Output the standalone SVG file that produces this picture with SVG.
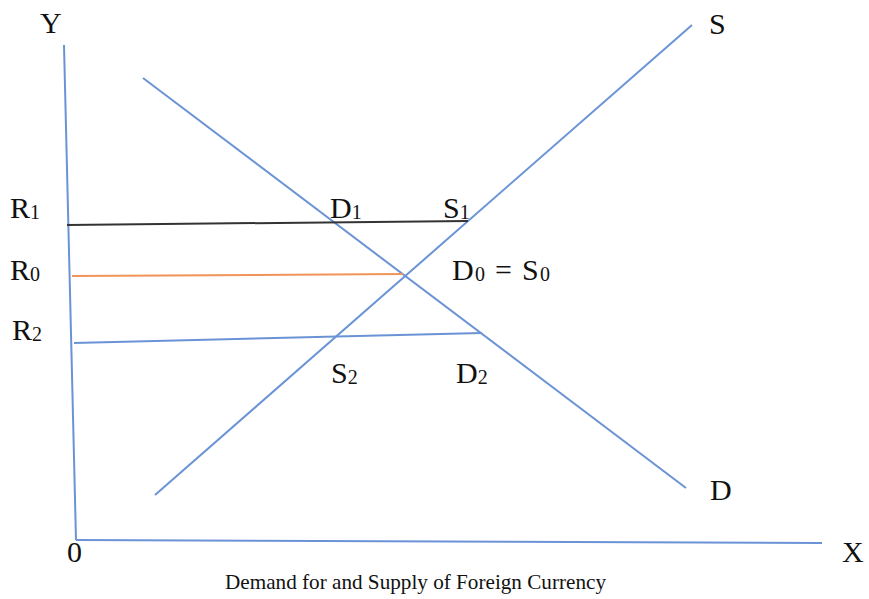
<svg xmlns="http://www.w3.org/2000/svg" width="869" height="599" viewBox="0 0 869 599">
<style>
.lbl{font-family:"Liberation Serif","Times New Roman",serif;font-size:30px;fill:#111}
.sub{font-size:20px}
.cap{font-family:"Liberation Serif","Times New Roman",serif;font-size:21px;fill:#111}
.blue{stroke:#6a93d6;stroke-width:2;fill:none}
</style>
<rect width="869" height="599" fill="#fff"/>
<g id="axes">
<line class="blue" x1="64" y1="45" x2="76" y2="540"/>
<line class="blue" x1="76" y1="540" x2="822" y2="543"/>
</g>
<g id="connectors">
<line id="supply" class="blue" x1="155" y1="495" x2="692" y2="25"/>
<line id="demand" class="blue" x1="143" y1="78" x2="686" y2="488"/>
<line id="r1line" x1="67" y1="225" x2="468" y2="221" stroke="#333" stroke-width="2"/>
<line id="r0line" x1="72" y1="276" x2="403" y2="274" stroke="#f0945a" stroke-width="2"/>
<line id="r2line" class="blue" x1="74" y1="343" x2="482" y2="333"/>
</g>
<g id="labels">
<text class="lbl" x="40" y="33">Y</text>
<text class="lbl" x="709" y="34">S</text>
<text class="lbl" x="710" y="500">D</text>
<text class="lbl" x="67" y="562">0</text>
<text class="lbl" x="842" y="562">X</text>
<text class="lbl" x="10" y="218">R<tspan class="sub" dy="1">1</tspan></text>
<text class="lbl" x="10" y="280">R<tspan class="sub" dy="1">0</tspan></text>
<text class="lbl" x="12" y="340">R<tspan class="sub" dy="1">2</tspan></text>
<text class="lbl" x="330" y="218">D<tspan class="sub" dy="1">1</tspan></text>
<text class="lbl" x="443" y="218">S<tspan class="sub" dy="1">1</tspan></text>
<text class="lbl" x="452" y="280" textLength="98">D<tspan class="sub" dy="1">0</tspan><tspan dy="-1"> = S</tspan><tspan class="sub" dy="1">0</tspan></text>
<text class="lbl" x="331" y="383">S<tspan class="sub" dy="1">2</tspan></text>
<text class="lbl" x="456" y="383">D<tspan class="sub" dy="1">2</tspan></text>
<text class="cap" x="225" y="589" textLength="381" lengthAdjust="spacingAndGlyphs">Demand for and Supply of Foreign Currency</text>
</g>
</svg>
